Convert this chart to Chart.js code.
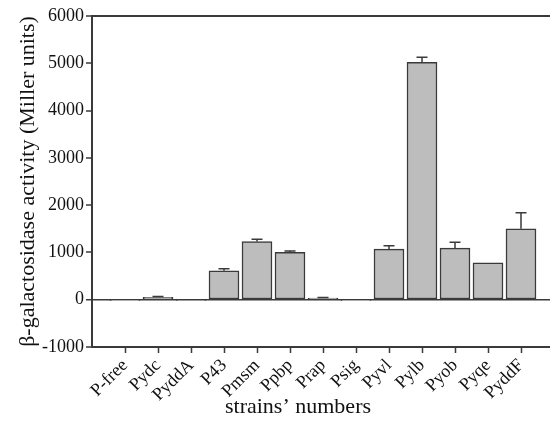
<!DOCTYPE html>
<html>
<head>
<meta charset="utf-8">
<script src="https://cdn.jsdelivr.net/npm/chart.js@4"></script>
<style>
  html, body { margin: 0; padding: 0; background: #fff; overflow: hidden; }
  #wrap { width: 550px; height: 422px; overflow: hidden; }
</style>
</head>
<body>
<div id="wrap"><canvas id="grafico" width="560" height="422"></canvas></div>
<script>
const estirpes = ['P-free','Pydc','PyddA','P43','Pmsm','Ppbp','Prap','Psig','Pyvl','Pylb','Pyob','Pyqe','PyddF'];
const atividade = [-15, 50, -5, 610, 1230, 1000, 35, -10, 1070, 5020, 1090, 780, 1500];
const erros = [10, 20, 5, 45, 50, 30, 10, 5, 70, 110, 125, 0, 340];
const yTicks = [-1000, 0, 1000, 2000, 3000, 4000, 5000, 6000];

const serif = 'Liberation Serif';
const escuro = '#3a3a3a';

// empty slot each side so the first and last bars sit one step in from the axis ends
const rotulos = ['', ...estirpes, ''];
const valores = [null, ...atividade, null];

const errorBars = {
  id: 'errorBars',
  afterDatasetsDraw(chart) {
    const { ctx, scales: { y } } = chart;
    const meta = chart.getDatasetMeta(0);
    ctx.save();
    ctx.strokeStyle = escuro;
    ctx.lineWidth = 1.5;
    atividade.forEach((v, i) => {
      const e = erros[i];
      if (!e || v <= 0) return;
      const bar = meta.data[i + 1];
      const y0 = y.getPixelForValue(v);
      const y1 = y.getPixelForValue(v + e);
      ctx.beginPath();
      ctx.moveTo(bar.x, y0);
      ctx.lineTo(bar.x, y1);
      ctx.moveTo(bar.x - 5.5, y1);
      ctx.lineTo(bar.x + 5.5, y1);
      ctx.stroke();
    });
    ctx.restore();
  }
};

const moldura = {
  id: 'moldura',
  afterDraw(chart) {
    const { ctx, chartArea: a } = chart;
    ctx.save();
    ctx.strokeStyle = escuro;
    ctx.lineWidth = 2;
    ctx.beginPath();
    ctx.moveTo(a.left, a.top);
    ctx.lineTo(a.right + 10, a.top);
    ctx.stroke();
    ctx.fillStyle = '#111';
    ctx.font = '22px "' + serif + '"';
    ctx.textAlign = 'center';
    ctx.textBaseline = 'middle';
    ctx.fillText('strains\u2019 numbers', a.left + 206, 407);
    ctx.restore();
  }
};

const ctx = document.getElementById('grafico').getContext('2d');
const grafico = new Chart(ctx, {
  type: 'bar',
  data: {
    labels: rotulos,
    datasets: [{
      data: valores,
      backgroundColor: '#bdbdbd',
      borderColor: escuro,
      borderWidth: 1.5,
      borderSkipped: false,
      barThickness: 30
    }]
  },
  options: {
    responsive: false,
    animation: false,
    layout: { padding: { top: 16, right: 6, left: 0, bottom: 0 } },
    plugins: { legend: { display: false }, tooltip: { enabled: false } },
    scales: {
      x: {
        offset: false,
        afterFit: s => { s.height = 75; s.paddingLeft = 0; s.paddingRight = 0; },
        grid: {
          offset: false,
          drawOnChartArea: false,
          tickLength: 6,
          tickWidth: 1.5,
          tickColor: c => (c.index === 0 || c.index === rotulos.length - 1) ? 'rgba(0,0,0,0)' : escuro
        },
        border: { color: escuro, width: 2 },
        ticks: {
          autoSkip: false,
          maxRotation: 45,
          minRotation: 45,
          padding: 2,
          color: '#111',
          font: { family: serif, size: 18 }
        }
      },
      y: {
        min: -1000,
        max: 6000,
        afterFit: s => { s.width = 92; },
        afterBuildTicks: s => { s.ticks = yTicks.map(v => ({ value: v })); },
        grid: {
          color: c => c.tick && c.tick.value === 0 ? escuro : 'rgba(0,0,0,0)',
          lineWidth: c => c.tick && c.tick.value === 0 ? 1.5 : 0,
          tickColor: escuro,
          tickWidth: 1.5,
          tickLength: 6
        },
        border: { color: escuro, width: 2 },
        ticks: {
          padding: 2,
          color: '#111',
          font: { family: serif, size: 18 },
          callback: v => String(v)
        },
        title: {
          display: true,
          text: '\u03B2-galactosidase activity (Miller units)',
          color: '#111',
          font: { family: serif, size: 22 },
          padding: { top: 15, bottom: 0 }
        }
      }
    }
  },
  plugins: [errorBars, moldura]
});
</script>
</body>
</html>
